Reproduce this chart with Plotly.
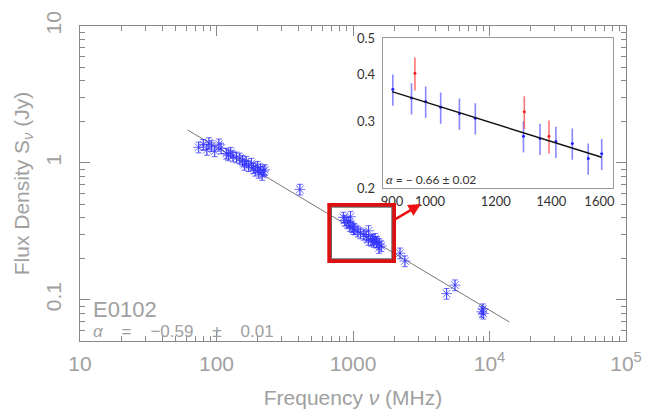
import numpy as np
import plotly.graph_objects as go

# ---------------- data ----------------
main_freq = [74, 80, 85, 88, 92, 97, 104, 108, 118, 122, 127, 132, 140, 148, 155, 160,
             165, 172, 180, 186, 192, 200, 204, 210, 216, 220, 226, 408,
             850, 870, 902, 930, 950, 959, 988, 1010, 1030, 1085, 1134, 1200, 1250,
             1296, 1299, 1357, 1391, 1418, 1450, 1484, 1500, 1551, 1560, 1610,
             2210, 2400, 4850, 5590, 8770, 8950, 9020]
main_flux = [1.30, 1.36, 1.25, 1.40, 1.33, 1.22, 1.37, 1.28, 1.17, 1.14, 1.19, 1.12, 1.10, 1.08, 1.04, 0.97,
             1.02, 0.95, 0.99, 0.92, 0.88, 0.94, 0.85, 0.90, 0.82, 0.87, 0.89, 0.64,
             0.40, 0.38, 0.366, 0.37, 0.347, 0.404, 0.340, 0.33, 0.328, 0.316, 0.307, 0.30, 0.29,
             0.275, 0.319, 0.271, 0.275, 0.266, 0.28, 0.263, 0.265, 0.240, 0.255, 0.247,
             0.219, 0.192, 0.111, 0.128, 0.0817, 0.0855, 0.0795]

fit_freq = [61.5, 13960]
fit_flux = [1.74, 0.0689]

inset_blue_freq = [902, 950, 988, 1030, 1085, 1134, 1296, 1357, 1418, 1484, 1551, 1610]
inset_blue_flux = [0.366, 0.347, 0.340, 0.328, 0.316, 0.307, 0.275, 0.271, 0.266, 0.263, 0.240, 0.247]
inset_red_freq = [959, 1299, 1391]
inset_red_flux = [0.404, 0.319, 0.275]
inset_fit_freq = [900, 1610]
inset_fit_flux = [0.361, 0.2417]

x_major = [10, 100, 1000, 1e4, 1e5]
x_major_text = ["10", "100", "1000", "10<sup>4</sup>", "10<sup>5</sup>"]
y_major = [0.1, 1, 10]
y_major_text = ["0.1", "1", "10"]
inset_x_ticks = [900, 1000, 1200, 1400, 1600]
inset_y_ticks = [0.2, 0.3, 0.4, 0.5]

# ---------------- figure ----------------
W, H = 657, 419
ML, MR, MT, MB = 80, 31, 26, 78
PW, PH = W - ML - MR, H - MT - MB

def px(xp):
    return (xp - ML) / PW

def py(yp):
    return (MT + PH - yp) / PH

x_minor = [m * 10 ** e for e in range(1, 5) for m in range(2, 10)]
y_minor = [m * 10 ** e for e in range(-2, 1) for m in range(2, 10) if m * 10 ** e >= 0.05]

blue = "rgba(50,50,255,0.7)"
fig = go.Figure()

fig.add_trace(go.Scatter(x=fit_freq, y=fit_flux, mode="lines",
                         line=dict(color="#777777", width=1), showlegend=False))
fig.add_trace(go.Scatter(x=main_freq, y=main_flux, mode="markers",
                         marker=dict(symbol="asterisk-open", size=9, color=blue,
                                     line=dict(color=blue, width=1)),
                         error_y=dict(type="percent", value=9, width=3, thickness=1, color=blue),
                         showlegend=False))

# inset
ib = "rgba(70,70,255,0.65)"
ir = "rgba(255,70,70,0.75)"
fig.add_trace(go.Scatter(x=inset_blue_freq, y=inset_blue_flux, mode="markers",
                         marker=dict(size=3, color="#2222ff"),
                         error_y=dict(type="percent", value=9.5, width=0, thickness=1.6, color=ib),
                         xaxis="x2", yaxis="y2", showlegend=False))
fig.add_trace(go.Scatter(x=inset_red_freq, y=inset_red_flux, mode="markers",
                         marker=dict(size=3, color="#ee2222"),
                         error_y=dict(type="percent", value=10, width=0, thickness=1.6, color=ir),
                         xaxis="x2", yaxis="y2", showlegend=False))
fig.add_trace(go.Scatter(x=inset_fit_freq, y=inset_fit_flux, mode="lines",
                         line=dict(color="#111111", width=1.5),
                         xaxis="x2", yaxis="y2", showlegend=False))

axfont = dict(family="Liberation Sans, Arial, sans-serif", size=21, color="#a0a0a0")
fig.update_layout(
    width=W, height=H,
    margin=dict(l=ML, r=MR, t=MT, b=MB),
    paper_bgcolor="white", plot_bgcolor="white",
    xaxis=dict(type="log", range=[1, 5], domain=[0, 1],
               tickmode="array", tickvals=x_major, ticktext=x_major_text,
               ticks="inside", ticklen=10, tickcolor="#888", tickwidth=1,
               minor=dict(tickmode="array", tickvals=x_minor, ticks="inside",
                          ticklen=5, tickcolor="#888", tickwidth=1, showgrid=False),
               showline=True, linecolor="#888", linewidth=1, mirror="allticks",
               showgrid=False, zeroline=False, tickfont=axfont, ticklabelstandoff=4,
               title=dict(text="Frequency <i>ν</i> (MHz)", font=axfont, standoff=16)),
    yaxis=dict(type="log", range=[np.log10(0.05), 1], domain=[0, 1],
               tickmode="array", tickvals=y_major, ticktext=y_major_text,
               ticks="inside", ticklen=10, tickcolor="#888", tickwidth=1, tickangle=-90,
               minor=dict(tickmode="array", tickvals=y_minor, ticks="inside",
                          ticklen=5, tickcolor="#888", tickwidth=1, showgrid=False),
               showline=True, linecolor="#888", linewidth=1, mirror="allticks",
               showgrid=False, zeroline=False, tickfont=axfont, ticklabelstandoff=10,
               title=dict(text="Flux Density S<sub><i>ν</i></sub> (Jy)", font=axfont, standoff=6)),
    xaxis2=dict(type="log", range=[np.log10(877), np.log10(1660)],
                domain=[px(382.7), px(612.7)], anchor="y2",
                tickmode="array", tickvals=inset_x_ticks,
                ticktext=[str(v) for v in inset_x_ticks],
                ticks="", showline=True, linecolor="#999", linewidth=1, mirror=True,
                showgrid=False, zeroline=False,
                tickfont=dict(family="Lato, Open Sans, sans-serif", size=13, color="#333"),
                ticklabelstandoff=1),
    yaxis2=dict(type="log", range=[np.log10(0.2), np.log10(0.5)],
                domain=[py(188.3), py(38.3)], anchor="x2",
                tickmode="array", tickvals=inset_y_ticks,
                ticktext=[str(v) for v in inset_y_ticks],
                ticks="", showline=True, linecolor="#999", linewidth=1, mirror=True,
                showgrid=False, zeroline=False,
                tickfont=dict(family="Lato, Open Sans, sans-serif", size=13, color="#333"),
                ticklabelstandoff=4),
)

# red box and arrow
fig.add_shape(type="rect", xref="paper", yref="paper",
              x0=px(329.3), x1=px(394), y0=py(261), y1=py(205),
              line=dict(color="#dd1111", width=4))
fig.add_shape(type="rect", xref="paper", yref="paper",
              x0=px(331.5), x1=px(391.8), y0=py(258.8), y1=py(207.2),
              line=dict(color="#666666", width=1))
fig.add_annotation(xref="paper", yref="paper", x=px(421), y=py(204),
                   ax=-27, ay=16, text="", showarrow=True,
                   arrowhead=2, arrowsize=1, arrowwidth=2.5, arrowcolor="#ee1111")

# texts
fig.add_annotation(xref="paper", yref="paper", x=px(91), y=py(309), xanchor="left",
                   yanchor="middle", showarrow=False, text="E0102",
                   font=dict(family="Liberation Sans, Arial, sans-serif", size=22, color="#a0a0a0"))
sp = "\u00a0" * 4
fig.add_annotation(xref="paper", yref="paper", x=px(91), y=py(331), xanchor="left",
                   yanchor="middle", showarrow=False,
                   text="<i>α</i>" + sp + "=" + sp + "−0.59" + sp + "±" + sp + "0.01",
                   font=dict(family="Liberation Sans, Arial, sans-serif", size=17, color="#a0a0a0"))
fig.add_annotation(xref="paper", yref="paper", x=px(384), y=py(179), xanchor="left",
                   yanchor="middle", showarrow=False,
                   text="<i>α</i> = − 0.66 ± 0.02",
                   font=dict(family="Lato, Open Sans, sans-serif", size=12, color="#333"))

fig.write_html("out.html")
